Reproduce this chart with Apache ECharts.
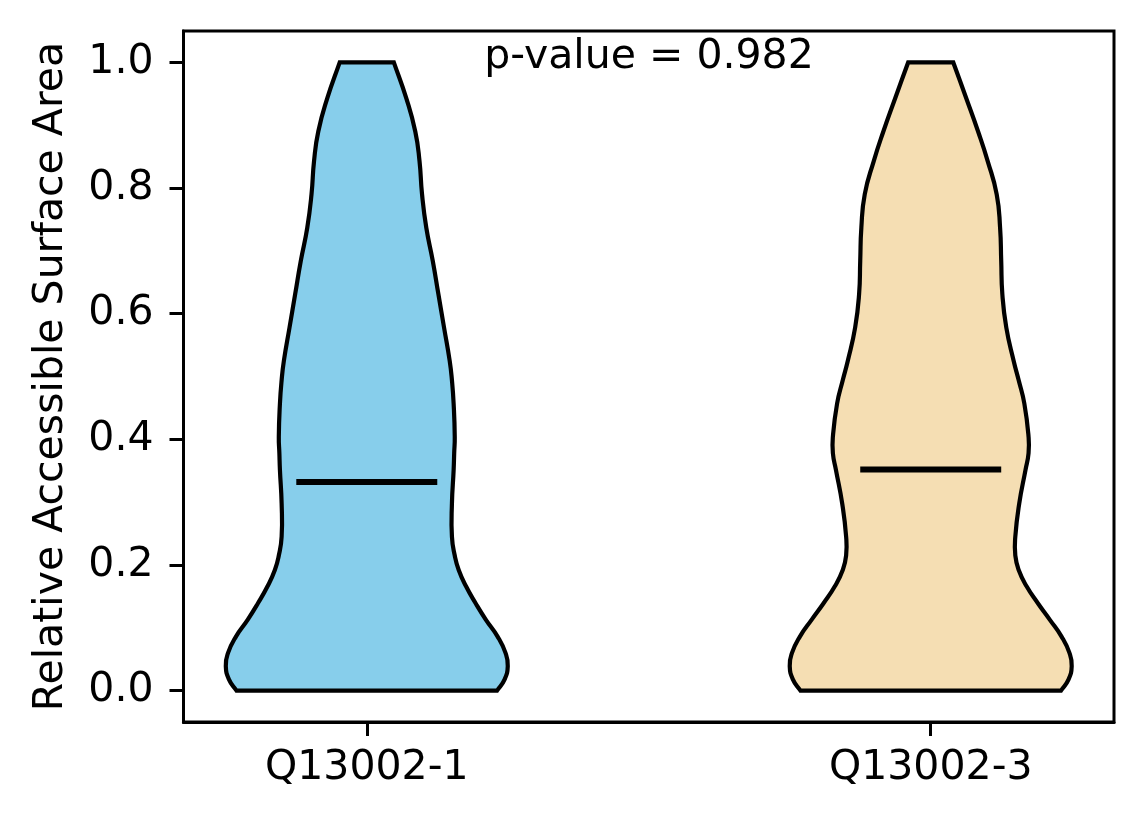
<!DOCTYPE html>
<html lang="en">
<head>
    <meta charset="utf-8">
    <title>Violin plot</title>
    <script src="https://cdn.jsdelivr.net/npm/echarts@6/dist/echarts.min.js"></script>
    <style>
        html, body { margin: 0; padding: 0; background: #fff; }
    </style>
</head>
<body>
<div id="main" style="width:1144px;height:824px"></div>
<script type="text/javascript">
    // group names, positions on the x axis and medians
    var groupNames = ['Q13002-1', 'Q13002-3'];
    var positions = [1, 2];
    var medians = [0.332, 0.352];
    var colors = ['#87CEEB', '#F5DEB3'];
    var pValueText = 'p-value = 0.982';

    // kde outline: y levels and half widths (x units)
    var yLevels = [0, 0.017, 0.039, 0.060, 0.086, 0.113, 0.139, 0.166, 0.192, 0.215,
        0.245, 0.298, 0.351, 0.378, 0.404, 0.457, 0.494, 0.525, 0.578, 0.631,
        0.684, 0.737, 0.790, 0.843, 0.890, 0.943, 1.0];
    var halfWidths1 = [0.231, 0.244, 0.250, 0.246, 0.232, 0.211, 0.193, 0.176, 0.163, 0.156,
        0.151, 0.151, 0.154, 0.155, 0.156, 0.154, 0.151, 0.147, 0.137, 0.127,
        0.117, 0.1055, 0.098, 0.0935, 0.086, 0.070, 0.048];
    var halfWidths2 = [0.231, 0.244, 0.250, 0.246, 0.232, 0.211, 0.190, 0.170, 0.156, 0.150,
        0.150, 0.157, 0.168, 0.1735, 0.1735, 0.166, 0.156, 0.147, 0.134, 0.127,
        0.125, 0.123, 0.117, 0.101, 0.084, 0.063, 0.040];
    var halfWidths = [halfWidths1, halfWidths2];

    var yTicks = [0, 0.2, 0.4, 0.6, 0.8, 1.0];
    var medianHalf = 0.125;

    var font = 'DejaVu Sans';
    var myChart = echarts.init(document.getElementById('main'));

    function violinItem(params, api) {
        var idx = api.value(1);
        var pos = api.value(0);
        var w = halfWidths[idx];
        var n = yLevels.length;
        var pts = [];
        // left side bottom -> top, corners doubled so they stay sharp
        for (var i = 0; i < n; i++) {
            var p = api.coord([pos - w[i], yLevels[i]]);
            pts.push(p);
            if (i === 0 || i === n - 1) pts.push(p.slice());
        }
        // right side top -> bottom
        for (var j = n - 1; j >= 0; j--) {
            var q = api.coord([pos + w[j], yLevels[j]]);
            pts.push(q);
            if (j === 0 || j === n - 1) pts.push(q.slice());
        }
        var m0 = api.coord([pos - medianHalf, medians[idx]]);
        var m1 = api.coord([pos + medianHalf, medians[idx]]);
        return {
            type: 'group',
            children: [{
                type: 'polygon',
                shape: { points: pts, smooth: 0.5 },
                style: { fill: colors[idx], stroke: '#000', lineWidth: 4.2 }
            }, {
                type: 'line',
                shape: { x1: m0[0], y1: m0[1], x2: m1[0], y2: m1[1] },
                style: { stroke: '#000', lineWidth: 6 }
            }]
        };
    }

    option = {
        animation: false,
        backgroundColor: '#fff',
        textStyle: { fontFamily: font },
        grid: {
            left: 183.5, right: 30, top: 31, bottom: 102,
            show: true, borderColor: '#000', borderWidth: 3
        },
        graphic: [{
            type: 'text',
            x: 649,
            y: 37,
            style: {
                text: pValueText,
                fontFamily: font,
                fontSize: 41,
                fill: '#000',
                textAlign: 'center',
                textVerticalAlign: 'top'
            }
        }],
        xAxis: {
            type: 'value',
            min: 0.675,
            max: 2.325,
            axisLine: { show: true, onZero: false, lineStyle: { color: '#000', width: 3 } },
            axisTick: {
                show: true, length: 14, customValues: positions,
                lineStyle: { color: '#000', width: 3 }
            },
            axisLabel: {
                customValues: positions,
                margin: 26,
                fontSize: 41,
                fontFamily: font,
                color: '#000',
                formatter: function (v) {
                    return groupNames[positions.indexOf(Math.round(v))];
                }
            },
            splitLine: { show: false }
        },
        yAxis: {
            type: 'value',
            min: -0.05,
            max: 1.05,
            name: 'Relative Accessible Surface Area',
            nameLocation: 'middle',
            nameGap: 112,
            nameTextStyle: { fontSize: 41, fontFamily: font, color: '#000' },
            axisLine: { show: true, onZero: false, lineStyle: { color: '#000', width: 3 } },
            axisTick: {
                show: true, length: 14, customValues: yTicks,
                lineStyle: { color: '#000', width: 3 }
            },
            axisLabel: {
                customValues: yTicks,
                margin: 30,
                fontSize: 41,
                fontFamily: font,
                color: '#000',
                formatter: function (v) { return v.toFixed(1); }
            },
            splitLine: { show: false }
        },
        series: [{
            type: 'custom',
            renderItem: violinItem,
            clip: false,
            data: positions.map(function (p, i) { return [p, i]; })
        }]
    };
    myChart.setOption(option);
</script>
</body>
</html>
